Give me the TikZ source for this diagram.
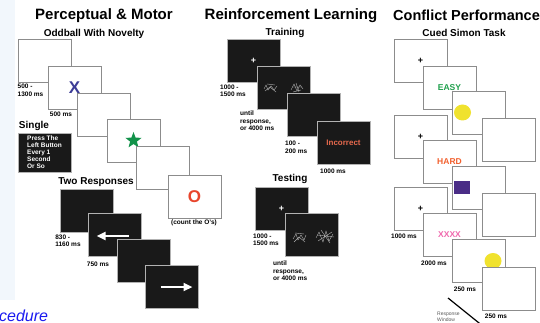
\documentclass[tikz,border=0pt]{standalone}
\usepackage{fontspec}
\setmainfont{Liberation Sans}
\usetikzlibrary{shapes.geometric,arrows.meta}

\definecolor{stripblue}{HTML}{F2F7FC}
\definecolor{framegray}{HTML}{8C8C8C}
\definecolor{oddblue}{HTML}{3C3C96}
\definecolor{oddred}{HTML}{E8452C}
\definecolor{novelgreen}{HTML}{12924A}
\definecolor{wrongred}{HTML}{E86A4E}
\definecolor{easygreen}{HTML}{1FA04C}
\definecolor{hardred}{HTML}{F2602E}
\definecolor{dotyellow}{HTML}{F0E22E}
\definecolor{squarepurple}{HTML}{4A2D86}
\definecolor{xpink}{HTML}{F06AAE}
\definecolor{procblue}{HTML}{1A1AF0}

\begin{document}
\begin{tikzpicture}[x=1pt,y=-1pt,
    screen/.style={draw=framegray, line width=0.8pt, fill=white, minimum width=53pt, minimum height=43pt, inner sep=0pt},
    darkscreen/.style={screen, fill=black!90, draw=gray!60},
    title/.style={font=\fontsize{15}{17}\selectfont\bfseries, inner sep=0pt},
    subtitle/.style={font=\fontsize{10}{12}\selectfont\bfseries, inner sep=0pt},
    timing/.style={font=\fontsize{6.5}{7.5}\selectfont\bfseries, align=left, inner sep=0pt},
    fixation/.style={font=\fontsize{9}{9}\selectfont\bfseries},
    cue/.style={font=\fontsize{8.5}{9}\selectfont\bfseries},
    scribble/.style={gray!60, line width=0.4pt},
    cuearrow/.style={white, line width=2.4pt, -{Triangle[width=8pt,length=9pt]}}
]
    % Page
    \useasboundingbox (0,0) rectangle (540,323);
    \fill[white] (0,0) rectangle (540,323);
    \fill[stripblue] (0,0) rectangle (15,300);
    \node[font=\fontsize{16}{16}\selectfont\itshape, text=procblue, anchor=base west, inner sep=0pt] (proc) at (-1,321) {cedure};

    % Perceptual & Motor
    \node[title] (pmtitle) at (104,15.5) {Perceptual \& Motor};
    \node[subtitle] (oddtitle) at (94,34) {Oddball With Novelty};

    % Oddball screens
    \node[screen] (odd1) at (44.5,60.5) {};
    \node[screen, text=oddblue, font=\fontsize{17}{17}\selectfont\bfseries] (odd2) at (74.5,87.5) {X};
    \node[screen] (odd3) at (103.5,114.5) {};
    \node[screen] (odd4) at (133.5,140.5) {};
    \node[star, star points=5, star point ratio=2.4, fill=novelgreen, minimum size=17pt, inner sep=0pt] (novel) at (odd4) {};
    \node[screen] (odd5) at (162.5,167.5) {};
    \node[screen, text=oddred, font=\fontsize{17}{17}\selectfont\bfseries] (odd6) at (194.5,196.5) {O};

    \node[timing] (odditi) at (30.5,90.5) {500 -\\1300 ms};
    \node[timing] (oddstim) at (61,114) {500 ms};
    \node[timing] (countnote) at (194,223) {(count the O's)};

    % Single
    \node[subtitle] (singletitle) at (34,126) {Single};
    \node[darkscreen, minimum height=39pt, text=white, align=left, font=\fontsize{6.5}{7}\selectfont\bfseries] (single) at (44.5,152.5) {Press The\\Left Button\\Every 1\\Second\\Or So};

    % Two responses
    \node[subtitle] (tworesp) at (96,182) {Two Responses};
    \node[darkscreen] (two1) at (86.5,210.5) {};
    \node[darkscreen] (two2) at (114.5,234.5) {};
    \node[darkscreen] (two3) at (143.5,260.5) {};
    \node[darkscreen] (two4) at (171.5,286.5) {};
    \draw[cuearrow] ([xshift=14pt,yshift=-1.5pt]two2.center) -- ([xshift=-18pt,yshift=-1.5pt]two2.center);
    \draw[cuearrow] ([xshift=-11pt,yshift=-0.5pt]two4.center) -- ([xshift=21pt,yshift=-0.5pt]two4.center);

    \node[timing] (twoiti) at (68,241) {830 -\\1160 ms};
    \node[timing] (twostim) at (98,264) {750 ms};

    % Reinforcement Learning
    \node[title] (rltitle) at (291,15.5) {Reinforcement Learning};
    \node[subtitle] (traintitle) at (285,33) {Training};

    % Training screens
    \node[darkscreen, fixation, text=white] (train1) at (253.5,60.5) {+};
    \node[darkscreen] (train2) at (283.5,87.5) {};
    \draw[scribble] (264,89) -- (266,85) -- (268,90) -- (271,86) -- (274,90) -- (277,86);
    \draw[scribble] (265,91) -- (270,87) -- (276,92) (267,84) -- (275,85);
    \draw[scribble] (291,90) -- (294,84) -- (297,91) -- (300,85) -- (303,89);
    \draw[scribble] (292,87) -- (302,87) (296,83) -- (299,92) (293,92) -- (301,90);
    \node[darkscreen] (train3) at (313.5,114.5) {};
    \node[darkscreen, text=wrongred, font=\fontsize{8}{8}\selectfont\bfseries] (train4) at (343.5,142.5) {Incorrect};

    \node[timing] (trainiti) at (233,91) {1000 -\\1500 ms};
    \node[timing, anchor=west] (trainwait) at (240,121) {until\\response,\\or 4000 ms};
    \node[timing, anchor=west] (trainlag) at (285,147.5) {100 -\\200 ms};
    \node[timing] (trainfb) at (333,171) {1000 ms};

    % Testing screens
    \node[subtitle] (testtitle) at (290,179) {Testing};
    \node[darkscreen, fixation, text=white] (test1) at (281.5,208.5) {+};
    \node[darkscreen] (test2) at (311.5,234.5) {};
    \draw[scribble] (293,239) -- (296,234) -- (298,240) -- (301,235) -- (304,240) -- (306,235);
    \draw[scribble] (294,242) -- (299,237) -- (305,242) (295,233) -- (304,234);
    \draw[scribble] (316,238) -- (319,232) -- (323,242) -- (326,231) -- (329,241) -- (333,234);
    \draw[scribble] (317,235) -- (334,237) (318,241) -- (332,232) (321,230) -- (330,243);

    \node[timing] (testiti) at (266,240) {1000 -\\1500 ms};
    \node[timing, anchor=west] (testwait) at (273,271) {until\\response,\\or 4000 ms};

    % Conflict Performance
    \node[title, font=\fontsize{14.5}{17}\selectfont\bfseries, anchor=west] (cptitle) at (393,15.5) {Conflict Performance};
    \node[subtitle] (simontitle) at (464,33) {Cued Simon Task};

    % Easy trial
    \node[screen, fixation] (easy1) at (420.5,60.5) {+};
    \node[screen, cue, text=easygreen] (easy2) at (449.5,87.5) {EASY};
    \node[screen] (easy3) at (478.5,112.5) {};
    \node[ellipse, fill=dotyellow, minimum width=17pt, minimum height=16pt, inner sep=0pt] (easydot) at (462.5,112.5) {};
    \node[screen] (easy4) at (508.5,139.5) {};

    % Hard trial
    \node[screen, fixation] (hard1) at (420.5,136.5) {+};
    \node[screen, cue, text=hardred] (hard2) at (449.5,161.5) {HARD};
    \node[screen] (hard3) at (478.5,187.5) {};
    \node[fill=squarepurple, minimum width=16pt, minimum height=13pt, inner sep=0pt] (hardsquare) at (462,187.5) {};
    \node[screen] (hard4) at (508.5,214.5) {};

    % Catch trial
    \node[screen, fixation] (catch1) at (420.5,208.5) {+};
    \node[screen, cue, text=xpink] (catch2) at (449.5,234.5) {XXXX};
    \node[screen] (catch3) at (478.5,260.5) {};
    \node[ellipse, fill=dotyellow, minimum width=17pt, minimum height=16pt, inner sep=0pt] (catchdot) at (493,261) {};
    \node[screen] (catch4) at (508.5,288.5) {};

    \node[timing] (catchiti) at (404,236) {1000 ms};
    \node[timing] (catchcue) at (434,263) {2000 ms};
    \node[timing] (catchstim) at (465,289) {250 ms};
    \node[timing] (catchend) at (496,316) {250 ms};

    % Response window
    \coordinate (windowtop) at (448,298);
    \coordinate (windowend) at (484,327);
    \draw[line width=1.2pt] (windowtop) -- (windowend);
    \node[font=\fontsize{5}{6}\selectfont, text=gray!70!black, align=left, anchor=north west, inner sep=0pt] (window) at (437,312) {Response\\Window};

\end{tikzpicture}
\end{document}
